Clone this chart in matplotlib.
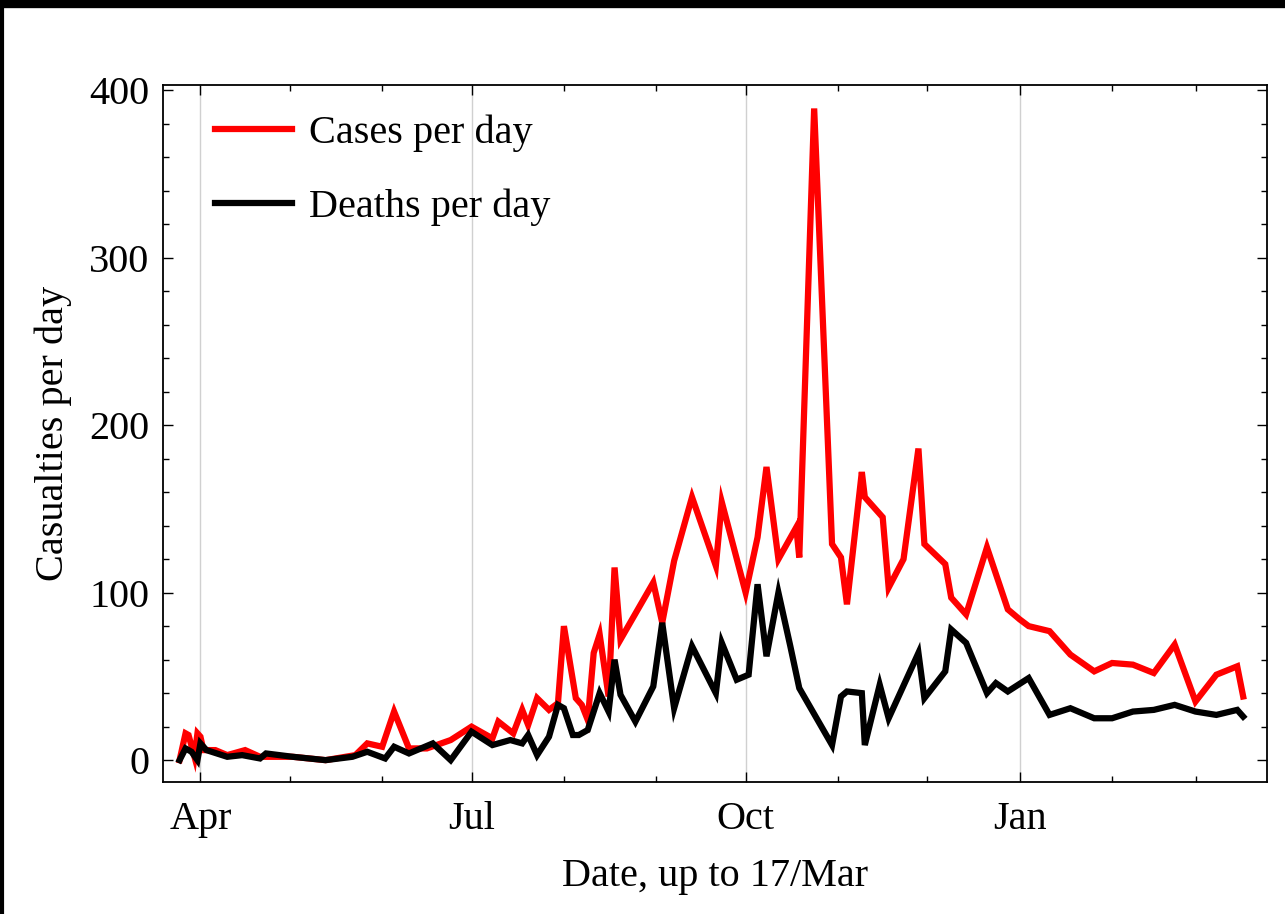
import matplotlib
matplotlib.use("Agg")
import matplotlib.pyplot as plt
import matplotlib.dates as mdates
import numpy as np
from matplotlib.lines import Line2D
from matplotlib.ticker import MultipleLocator

plt.rcParams["font.family"] = ["Liberation Serif", "DejaVu Serif"]

# ── data ─────────────────────────────────────────────────────────────────────
case_dates = [
    "2020-03-25", "2020-03-27", "2020-03-28", "2020-03-30", "2020-03-31",
    "2020-04-01", "2020-04-02", "2020-04-06", "2020-04-10", "2020-04-16",
    "2020-04-21", "2020-05-02", "2020-05-13", "2020-05-23", "2020-05-27",
    "2020-06-01", "2020-06-05", "2020-06-10", "2020-06-16", "2020-06-24",
    "2020-07-01", "2020-07-08", "2020-07-10", "2020-07-15", "2020-07-18",
    "2020-07-20", "2020-07-23", "2020-07-27", "2020-07-30", "2020-08-01",
    "2020-08-05", "2020-08-07", "2020-08-09", "2020-08-11", "2020-08-13",
    "2020-08-16", "2020-08-18", "2020-08-20", "2020-08-31", "2020-09-03",
    "2020-09-07", "2020-09-13", "2020-09-21", "2020-09-23", "2020-10-01",
    "2020-10-05", "2020-10-08", "2020-10-12", "2020-10-18", "2020-10-19",
    "2020-10-24", "2020-10-30", "2020-11-02", "2020-11-04", "2020-11-09",
    "2020-11-10", "2020-11-16", "2020-11-18", "2020-11-23", "2020-11-28",
    "2020-11-30", "2020-12-07", "2020-12-09", "2020-12-14", "2020-12-21",
    "2020-12-28", "2021-01-01", "2021-01-04", "2021-01-11", "2021-01-18",
    "2021-01-26", "2021-02-01", "2021-02-08", "2021-02-15", "2021-02-22",
    "2021-03-01", "2021-03-08", "2021-03-15", "2021-03-17",
]
cases = [
    0, 16, 15, 2, 16,
    14, 6, 6, 3, 6,
    2, 2, 0, 3, 10,
    8, 29, 7, 7, 12,
    20, 13, 23, 16, 30,
    21, 37, 30, 34, 80,
    37, 33, 24, 64, 75,
    38, 115, 72, 106, 82,
    119, 157, 116, 154, 100,
    133, 175, 120, 139, 121,
    389, 129, 121, 93, 172,
    157, 145, 103, 120, 186,
    129, 117, 97, 87, 127,
    90, 84, 80, 77, 63,
    53, 58, 57, 52, 69,
    35, 51, 56, 38,
]

death_dates = [
    "2020-03-25", "2020-03-27", "2020-03-29", "2020-03-31", "2020-04-01",
    "2020-04-03", "2020-04-10", "2020-04-15", "2020-04-21", "2020-04-23",
    "2020-05-02", "2020-05-13", "2020-05-22", "2020-05-27", "2020-06-02",
    "2020-06-05", "2020-06-10", "2020-06-18", "2020-06-24", "2020-07-01",
    "2020-07-08", "2020-07-14", "2020-07-18", "2020-07-20", "2020-07-23",
    "2020-07-27", "2020-07-30", "2020-08-01", "2020-08-04", "2020-08-06",
    "2020-08-09", "2020-08-13", "2020-08-16", "2020-08-18", "2020-08-20",
    "2020-08-25", "2020-08-31", "2020-09-03", "2020-09-07", "2020-09-13",
    "2020-09-21", "2020-09-23", "2020-09-28", "2020-10-02", "2020-10-05",
    "2020-10-08", "2020-10-12", "2020-10-16", "2020-10-19", "2020-10-30",
    "2020-11-02", "2020-11-04", "2020-11-09", "2020-11-10", "2020-11-15",
    "2020-11-18", "2020-11-28", "2020-11-30", "2020-12-07", "2020-12-09",
    "2020-12-14", "2020-12-21", "2020-12-24", "2020-12-28", "2021-01-04",
    "2021-01-11", "2021-01-18", "2021-01-26", "2021-02-01", "2021-02-08",
    "2021-02-15", "2021-02-22", "2021-03-01", "2021-03-08", "2021-03-15",
    "2021-03-17",
]
deaths = [
    0, 7, 5, 0, 10,
    6, 2, 3, 1, 4,
    2, 0, 2, 5, 1,
    8, 4, 10, 0, 17,
    9, 12, 10, 15, 3,
    14, 33, 31, 15, 15,
    18, 40, 29, 60, 39,
    23, 44, 82, 31, 68,
    40, 70, 48, 51, 105,
    62, 100, 68, 43, 9,
    38, 41, 40, 9, 45,
    25, 64, 37, 53, 78,
    70, 40, 46, 41, 49,
    27, 31, 25, 25, 29,
    30, 33, 29, 27, 30,
    26,
]

grid_months = ["2020-04-01", "2020-07-01", "2020-10-01", "2021-01-01"]

# ── figure ───────────────────────────────────────────────────────────────────
fig = plt.figure(figsize=(12.85, 9.14), dpi=100)
ax = fig.add_axes([0.127, 0.1445, 0.859, 0.7625])

ax.plot(np.array(case_dates, dtype="datetime64[D]"), cases,
        color="#ff0000", lw=4.5, solid_joinstyle="miter", label="Cases per day")
ax.plot(np.array(death_dates, dtype="datetime64[D]"), deaths,
        color="black", lw=4.5, solid_joinstyle="miter", label="Deaths per day")

for m in grid_months:
    ax.axvline(np.datetime64(m), color="#d0d0d0", lw=1.0, zorder=0)

ax.set_xlim(np.datetime64("2020-03-19T12:00"), np.datetime64("2021-03-25"))
ax.set_ylim(-13, 403)

ax.xaxis.set_major_locator(mdates.MonthLocator(bymonth=[1, 4, 7, 10]))
ax.xaxis.set_major_formatter(mdates.DateFormatter("%b"))
ax.xaxis.set_minor_locator(mdates.MonthLocator())
ax.yaxis.set_major_locator(MultipleLocator(100))
ax.yaxis.set_minor_locator(MultipleLocator(20))

ax.tick_params(which="both", direction="in", top=True, right=True,
               labelsize=29, width=1.0)
ax.tick_params(which="major", length=7)
ax.tick_params(which="minor", length=4)
ax.tick_params(axis="x", which="major", pad=14)
ax.tick_params(axis="y", which="major", pad=10)
for s in ax.spines.values():
    s.set_linewidth(1.3)

ax.set_xlabel("Date, up to 17/Mar", fontsize=29, labelpad=14)
ax.set_ylabel("Casualties per day", fontsize=29, labelpad=12)

ax.legend(loc="upper left", bbox_to_anchor=(0.047, 0.958), frameon=False,
          fontsize=29, handlelength=1.9, handletextpad=0.42,
          labelspacing=0.92, borderpad=0, borderaxespad=0)

# black frame round the picture (top and left edges)
fig.add_artist(Line2D([0, 1], [0.996, 0.996], transform=fig.transFigure,
                      color="black", lw=6))
fig.add_artist(Line2D([0.0015, 0.0015], [0, 1], transform=fig.transFigure,
                      color="black", lw=3))

fig.savefig("out.png", dpi=100)
